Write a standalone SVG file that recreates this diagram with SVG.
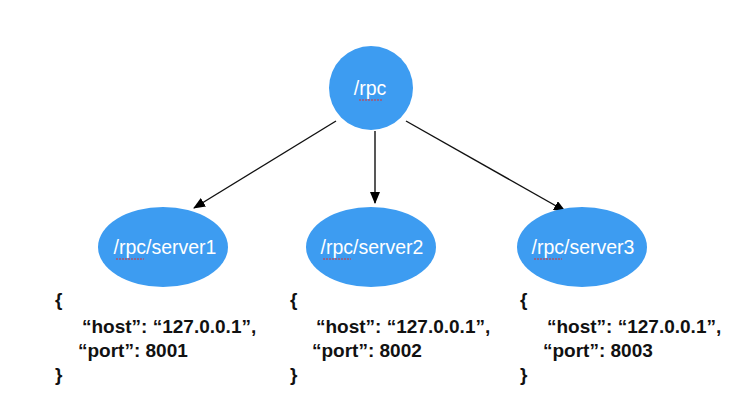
<svg xmlns="http://www.w3.org/2000/svg" width="751" height="405" viewBox="0 0 751 405">
<defs>
<marker id="ah" viewBox="0 0 12 10" refX="11" refY="5" markerWidth="12" markerHeight="10" markerUnits="userSpaceOnUse" orient="auto">
<path d="M0,0 L12,5 L0,10 z" fill="#000"/>
</marker>
<style>
.node{fill:#3D9CF1;}
.lbl{font-family:"Liberation Sans",Arial,sans-serif;font-size:19.5px;fill:#fff;text-anchor:middle;}
.json{font-family:"Liberation Sans",Arial,sans-serif;font-size:19px;font-weight:bold;fill:#111;}
.edge{stroke:#111;stroke-width:1.4;fill:none;marker-end:url(#ah);}
.sq{stroke:#d33;stroke-width:1;fill:none;stroke-dasharray:2 1;}
</style>
</defs>
<rect width="751" height="405" fill="#fff"/>
<g id="connectors">
<line class="edge" x1="336" y1="121" x2="194" y2="208"/>
<line class="edge" x1="375" y1="131" x2="375" y2="203"/>
<line class="edge" x1="406" y1="121" x2="565" y2="211"/>
</g>
<g id="rpc">
<circle class="node" cx="371" cy="88" r="42"/>
<text class="lbl" x="370" y="95">/rpc</text>
<path class="sq" d="M359,100 L382,100"/>
</g>
<g id="server1">
<ellipse class="node" cx="163" cy="247" rx="65" ry="40"/>
<text class="lbl" x="165" y="254">/rpc/server1</text>
<path class="sq" d="M116,259 L144,259"/>
</g>
<g id="server2">
<ellipse class="node" cx="371" cy="247" rx="65" ry="40"/>
<text class="lbl" x="372" y="254">/rpc/server2</text>
<path class="sq" d="M323,259 L351,259"/>
</g>
<g id="server3">
<ellipse class="node" cx="582" cy="247" rx="65" ry="40"/>
<text class="lbl" x="583" y="254">/rpc/server3</text>
<path class="sq" d="M534,259 L562,259"/>
</g>
<g id="json1">
<text class="json" x="55" y="306">{</text>
<text class="json" x="82" y="333">“host”: “127.0.0.1”,</text>
<text class="json" x="78" y="357">“port”: 8001</text>
<text class="json" x="55" y="381">}</text>
</g>
<g id="json2">
<text class="json" x="290" y="306">{</text>
<text class="json" x="316" y="333">“host”: “127.0.0.1”,</text>
<text class="json" x="312" y="357">“port”: 8002</text>
<text class="json" x="290" y="381">}</text>
</g>
<g id="json3">
<text class="json" x="520" y="306">{</text>
<text class="json" x="547" y="333">“host”: “127.0.0.1”,</text>
<text class="json" x="543" y="357">“port”: 8003</text>
<text class="json" x="520" y="381">}</text>
</g>
</svg>
